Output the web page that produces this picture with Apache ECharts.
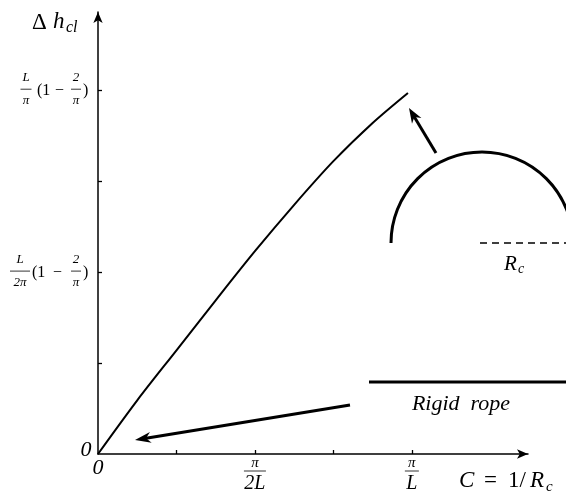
<!DOCTYPE html>
<html>
<head>
<meta charset="utf-8">
<script src="https://cdn.jsdelivr.net/npm/echarts@6/dist/echarts.min.js"></script>
<style>
  html, body { margin: 0; padding: 0; background: #fff; }
  #chart { width: 566px; height: 494px; }
</style>
</head>
<body>
<div id="chart"></div>
<script>
// Curvature C in units of pi/(4L); height change in units of (L/4pi)(1 - 2/pi)
const curvature    = [0, 0.5, 1, 1.5, 2, 2.5, 3, 3.5, 3.95];
const heightChange = [0, 0.59, 1.14, 1.69, 2.23, 2.74, 3.22, 3.64, 3.97];

const xTicks = [1, 2, 3, 4];
const yTicks = [1, 2, 3, 4];
const xTickLabels = [
  { value: 2, num: 'π', den: '2L', bar: 22 },
  { value: 4, num: 'π', den: 'L', bar: 14 }
];
const yTickLabels = [
  { value: 2, num: 'L', den: '2π', fracDx: -78, bar: 20, parenDx: -66, minusDx: -45 },
  { value: 4, num: 'L', den: 'π', fracDx: -72, bar: 11, parenDx: -61, minusDx: -43 }
];

const SERIF = '"Liberation Serif", "DejaVu Serif", serif';
const chart = echarts.init(document.getElementById('chart'), null, { renderer: 'canvas' });

const axisCommon = {
  type: 'value',
  min: 0,
  splitLine: { show: false },
  axisLabel: { show: false },
  axisLine: {
    show: true,
    symbol: ['none', 'arrow'],
    symbolSize: [7, 11],
    lineStyle: { color: '#000', width: 1.5 }
  }
};

chart.setOption({
  animation: false,
  backgroundColor: '#fff',
  grid: { left: 98, right: 38, top: 12, bottom: 40 },
  xAxis: Object.assign({}, axisCommon, {
    max: 5.48,
    axisTick: { show: true, inside: true, length: 4, customValues: xTicks, lineStyle: { color: '#000', width: 1.3 } }
  }),
  yAxis: Object.assign({}, axisCommon, {
    max: 4.86,
    axisTick: { show: true, inside: true, length: 4, customValues: yTicks, lineStyle: { color: '#000', width: 1.3 } }
  }),
  series: [{
    type: 'line',
    data: curvature.map((c, i) => [c, heightChange[i]]),
    smooth: 0.3,
    showSymbol: false,
    lineStyle: { color: '#000', width: 2 }
  }]
});

// ---- text and annotation helpers ----
function txt(x, y, s, size, italic, align, vAlign) {
  return {
    type: 'text', silent: true,
    style: {
      x: x, y: y, text: s,
      font: (italic ? 'italic ' : '') + size + 'px ' + SERIF,
      fill: '#000',
      align: align || 'left',
      verticalAlign: vAlign || 'middle'
    }
  };
}
function seg(x1, y1, x2, y2, w, dash) {
  return {
    type: 'line', silent: true,
    shape: { x1: x1, y1: y1, x2: x2, y2: y2 },
    style: { stroke: '#000', lineWidth: w, lineDash: dash || null }
  };
}
function fraction(cx, barY, num, den, barW, numSize, denSize, numDy, denDy) {
  return [
    txt(cx, barY - numDy, num, numSize, true, 'center'),
    seg(cx - barW / 2, barY, cx + barW / 2, barY, 0.8),
    txt(cx, barY + denDy, den, denSize, true, 'center')
  ];
}
function arrow(x1, y1, x2, y2, w, headLen, headW) {
  const ang = Math.atan2(y2 - y1, x2 - x1);
  const ux = Math.cos(ang), uy = Math.sin(ang);
  const bx = x2 - ux * headLen, by = y2 - uy * headLen;
  const nx = -uy, ny = ux;
  return [
    seg(x1, y1, x2 - ux * headLen * 0.6, y2 - uy * headLen * 0.6, w),
    {
      type: 'polygon', silent: true,
      shape: { points: [[x2, y2], [bx + nx * headW / 2, by + ny * headW / 2],
                        [x2 - ux * headLen * 0.7, y2 - uy * headLen * 0.7],
                        [bx - nx * headW / 2, by - ny * headW / 2]] },
      style: { fill: '#000' }
    }
  ];
}

function buildGraphics() {
  const g = [];
  const origin = chart.convertToPixel({ gridIndex: 0 }, [0, 0]);
  const ox = origin[0], oy = origin[1];

  // y-axis tick labels: fraction (1 - 2/pi)
  yTickLabels.forEach(lab => {
    const py = chart.convertToPixel({ gridIndex: 0 }, [0, lab.value])[1];
    g.push(...fraction(ox + lab.fracDx, py - 1, lab.num, lab.den, lab.bar, 13, 13, 12, 11));
    g.push(txt(ox + lab.parenDx, py + 1, '(1', 16, false, 'left'));
    g.push(txt(ox + lab.minusDx, py + 1, '−', 16, false, 'left'));
    g.push(...fraction(ox - 22, py - 1, '2', 'π', 10, 13, 13, 12, 11));
    g.push(txt(ox - 15, py + 1, ')', 16, false, 'left'));
  });

  // x-axis tick labels
  xTickLabels.forEach(lab => {
    const px = chart.convertToPixel({ gridIndex: 0 }, [lab.value, 0])[0];
    g.push(...fraction(px, oy + 17, lab.num, lab.den, lab.bar, 15, 20, 8, 13));
  });

  // zeros at origin
  g.push(txt(ox - 12, oy - 4, '0', 22, true, 'center'));
  g.push(txt(ox, oy + 14, '0', 22, true, 'center'));

  // axis titles
  g.push(txt(32, 23, 'Δ', 23, false, 'left'));
  g.push(txt(53, 22, 'h', 23, true, 'left'));
  g.push(txt(66, 28, 'cl', 16, true, 'left'));

  g.push(txt(459, 481, 'C', 23, true, 'left'));
  g.push(txt(484, 481, '=', 23, false, 'left'));
  g.push(txt(508, 481, '1/', 23, false, 'left'));
  g.push(txt(530, 481, 'R', 23, true, 'left'));
  g.push(txt(546, 487, 'c', 15, true, 'left'));

  // bent rope sketch: semicircle of radius R_c
  g.push({
    type: 'arc', silent: true,
    shape: { cx: 482, cy: 243, r: 91, startAngle: Math.PI, endAngle: 2 * Math.PI, clockwise: true },
    style: { stroke: '#000', lineWidth: 3, fill: null }
  });
  g.push(seg(480, 243, 566, 243, 1.5, [7, 5]));
  g.push(txt(504, 264, 'R', 21, true, 'left'));
  g.push(txt(518, 269, 'c', 14, true, 'left'));
  g.push(...arrow(436, 153, 409, 108, 3, 15, 11));

  // straight rope sketch
  g.push(seg(369, 382, 566, 382, 3));
  g.push(txt(461, 404, 'Rigid  rope', 22, true, 'center'));
  g.push(...arrow(350, 405, 135, 440, 3, 16, 11));

  chart.setOption({ graphic: g });
}
buildGraphics();
</script>
</body>
</html>
